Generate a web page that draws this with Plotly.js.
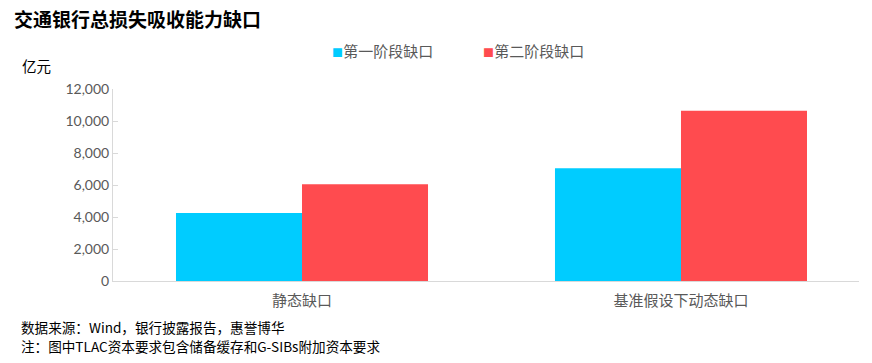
<!DOCTYPE html>
<html><head><meta charset="utf-8">
<script src="https://cdn.plot.ly/plotly-3.0.1.min.js"></script>
<style>html,body{margin:0;padding:0;background:#fff}#c{width:872px;height:363px}</style>
</head><body><div id="c"></div>
<script>
const categories = ["静态缺口", "基准假设下动态缺口"];
const stage1 = [4250, 7040];
const stage2 = [6050, 10640];
const seriesNames = ["第一阶段缺口", "第二阶段缺口"];
const seriesColors = ["#00CCFF", "#FF4B4F"];
const yTicks = [0, 2000, 4000, 6000, 8000, 10000, 12000];

const cjk = '"Noto Sans CJK SC", Lato, sans-serif';
const traces = [
  {type:'bar', name:seriesNames[0], x:[0,1], y:stage1, marker:{color:seriesColors[0]}},
  {type:'bar', name:seriesNames[1], x:[0,1], y:stage2, marker:{color:seriesColors[1]}}
];
// plot area: x from 113 to 859 px, y from 89 to 281 px
const W = 746, H = 192;
const px = p => (p - 113) / W;
const py = p => (281 - p) / H;
const legendAnn = seriesNames.map((n, i) => ({
  text:'<span style="color:' + seriesColors[i] + ';font-size:11px">■</span><span style="font-size:1px"> </span>' + n,
  xref:'paper', yref:'paper', x:px([330, 481][i]), y:py(50.5), xanchor:'left', yanchor:'middle', showarrow:false,
  font:{family:cjk, size:15, color:'#595959'}
}));
const layout = {
  width:872, height:363,
  margin:{l:113, r:13, t:89, b:82},
  paper_bgcolor:'#fff', plot_bgcolor:'#fff',
  barmode:'group', bargap:0.335, bargroupgap:0,
  showlegend:false,
  xaxis:{range:[-0.4987, 1.4697], tickvals:[0,1], ticktext:categories,
    showline:true, linecolor:'#d9d9d9', linewidth:1, ticks:'', ticklabelstandoff:6,
    tickfont:{family:cjk, size:15, color:'#595959'}, fixedrange:true},
  yaxis:{range:[0,12000], tickvals:yTicks, ticktext:yTicks.map(v=>v.toLocaleString('en-US')),
    showgrid:false, zeroline:false, showline:true, linecolor:'#d9d9d9', linewidth:1,
    ticks:'inside', ticklen:5, tickcolor:'#d9d9d9',
    tickfont:{family:'Lato, sans-serif', size:14, color:'#595959'}, fixedrange:true},
  title:{text:'<b>交通银行总损失吸收能力缺口</b>', x:0.016, xanchor:'left', y:0.945, yanchor:'middle',
    font:{family:cjk, size:19, color:'#000'}},
  annotations:legendAnn.concat([
    {text:'亿元', xref:'paper', yref:'paper', x:px(20), y:py(66), xanchor:'left', yanchor:'middle', showarrow:false,
      font:{family:cjk, size:14.5, color:'#000'}},
    {text:'数据来源：Wind，银行披露报告，惠誉博华', xref:'paper', yref:'paper', x:px(19), y:py(327), xanchor:'left', yanchor:'middle', showarrow:false,
      font:{family:cjk, size:13.6, color:'#000'}},
    {text:'注：图中TLAC资本要求包含储备缓存和G-SIBs附加资本要求', xref:'paper', yref:'paper', x:px(19), y:py(346), xanchor:'left', yanchor:'middle', showarrow:false,
      font:{family:cjk, size:13.6, color:'#000'}}
  ])
};
Plotly.newPlot('c', traces, layout, {displayModeBar:false, staticPlot:true});
</script></body></html>
